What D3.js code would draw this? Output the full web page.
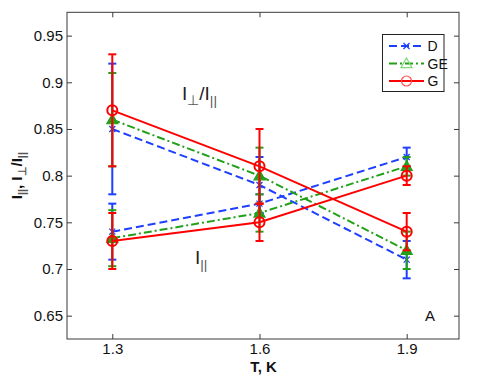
<!DOCTYPE html>
<html><head><meta charset="utf-8">
<script src="https://cdn.jsdelivr.net/npm/d3@7"></script>
<style>body{margin:0;background:#fff}svg{display:block}</style>
</head><body>
<script>
const temps = [1.3, 1.6, 1.9];
const xTicks = [1.3, 1.6, 1.9];
const yTicks = [0.65, 0.7, 0.75, 0.8, 0.85, 0.9, 0.95];
// I_perp / I_par (upper group)
const ratioD  = [0.85, 0.79, 0.71];
const ratioDerr = [0.07, 0.03, 0.02];
const ratioGE = [0.86, 0.80, 0.72];
const ratioGEerr = [0.05, 0.03, 0.02];
const ratioG  = [0.87, 0.81, 0.74];
const ratioGerr = [0.06, 0.04, 0.02];
// I_par (lower group)
const parD  = [0.74, 0.77, 0.82];
const parDerr = [0.03, 0.01, 0.01];
const parGE = [0.733, 0.76, 0.81];
const parGEerr = [0.03, 0.02, 0.01];
const parG  = [0.73, 0.75, 0.80];
const parGerr = [0.03, 0.02, 0.01];
const seriesNames = ["D", "GE", "G"];

const W = 485, H = 386;
const L = 67, R = 459, T = 12.3, B = 339;
const svg = d3.select("body").append("svg").attr("width", W).attr("height", H);
const x = d3.scaleLinear().domain([1.2077, 2.0066]).range([L, R]);
const y = d3.scaleLinear().domain([0.625, 0.975]).range([B, T]);
const axisCol = "#3a3a3a";
const font = "Liberation Sans, Arial, sans-serif";

const styles = {
  D:  {color: "#1f3fff", dash: "8,4", marker: "x"},
  GE: {color: "#23a01a", dash: "8,3,2,3", marker: "tri"},
  G:  {color: "#ff0000", dash: null, marker: "circ"}
};

// axes
const gx = svg.append("g").attr("transform", `translate(0,${B})`)
  .call(d3.axisBottom(x).tickValues(xTicks).tickFormat(d3.format(".1f")).tickSizeInner(-5).tickSizeOuter(0).tickPadding(4));
const gxt = svg.append("g").attr("transform", `translate(0,${T})`)
  .call(d3.axisTop(x).tickValues(xTicks).tickFormat("").tickSizeInner(-5).tickSizeOuter(0));
const gy = svg.append("g").attr("transform", `translate(${L},0)`)
  .call(d3.axisLeft(y).tickValues(yTicks).tickFormat(d => String(+d.toFixed(2))).tickSizeInner(-5).tickSizeOuter(0).tickPadding(4));
const gyr = svg.append("g").attr("transform", `translate(${R},0)`)
  .call(d3.axisRight(y).tickValues(yTicks).tickFormat("").tickSizeInner(-5).tickSizeOuter(0));
[gx, gxt, gy, gyr].forEach(g => {
  g.select(".domain").remove();
  g.selectAll(".tick line").attr("stroke", axisCol);
  g.selectAll(".tick text").attr("fill", "#111").style("font-family", font).style("font-size", "15px");
});
svg.append("rect").attr("x", L).attr("y", T).attr("width", R - L).attr("height", B - T)
  .attr("fill", "none").attr("stroke", axisCol).attr("stroke-width", 1);

const line = d3.line().x(d => x(d[0])).y(d => y(d[1]));

function drawMarker(g, type, cx, cy, color, legend) {
  if (type === "x") {
    const s = 3;
    g.append("path").attr("d", `M${cx-s},${cy-s}L${cx+s},${cy+s}M${cx-s},${cy+s}L${cx+s},${cy-s}`)
      .attr("stroke", color).attr("stroke-width", 1.3).attr("fill", "none");
  } else if (type === "tri") {
    const s = 5.5;
    g.append("path").attr("d", `M${cx},${cy-s}L${cx+s},${cy+s*0.75}L${cx-s},${cy+s*0.75}Z`)
      .attr("stroke", legend ? "#7dd87a" : color).attr("stroke-width", 1.2).attr("fill", legend ? "none" : color);
  } else {
    g.append("circle").attr("cx", cx).attr("cy", cy).attr("r", 5)
      .attr("stroke", legend ? "#ff5050" : color).attr("stroke-width", legend ? 1.2 : 2).attr("fill", "none");
  }
}

function drawSeries(name, vals, errs) {
  const st = styles[name];
  const g = svg.append("g");
  const pts = temps.map((t, i) => [t, vals[i]]);
  temps.forEach((t, i) => {
    const cx = x(t), y1 = y(vals[i] + errs[i]), y2 = y(vals[i] - errs[i]);
    g.append("line").attr("x1", cx).attr("x2", cx).attr("y1", y1).attr("y2", y2)
      .attr("stroke", st.color).attr("stroke-width", 2);
    [y1, y2].forEach(yy => g.append("line").attr("x1", cx - 4).attr("x2", cx + 4).attr("y1", yy).attr("y2", yy)
      .attr("stroke", st.color).attr("stroke-width", 2));
  });
  g.append("path").attr("d", line(pts)).attr("fill", "none").attr("stroke", st.color)
    .attr("stroke-width", 2).attr("stroke-dasharray", st.dash);
  pts.forEach(p => drawMarker(g, st.marker, x(p[0]), y(p[1]), st.color, false));
}

drawSeries("D", ratioD, ratioDerr);
drawSeries("D", parD, parDerr);
drawSeries("GE", ratioGE, ratioGEerr);
drawSeries("GE", parGE, parGEerr);
drawSeries("G", ratioG, ratioGerr);
drawSeries("G", parG, parGerr);

// legend
const lg = svg.append("g");
lg.append("rect").attr("x", 382.5).attr("y", 34.5).attr("width", 61.5).attr("height", 57)
  .attr("fill", "#fff").attr("stroke", "#222").attr("stroke-width", 1);
seriesNames.forEach((n, i) => {
  const st = styles[n];
  const yy = 46 + i * 17.5;
  lg.append("line").attr("x1", 389).attr("x2", 424).attr("y1", yy).attr("y2", yy)
    .attr("stroke", st.color).attr("stroke-width", 2).attr("stroke-dasharray", st.dash);
  drawMarker(lg, st.marker, 406.5, yy, st.color, true);
  lg.append("text").attr("x", 427.5).attr("y", yy + 5).text(n)
    .style("font-family", font).style("font-size", "14px").attr("fill", "#111");
});

// annotations
function subText(sel, parts, size) {
  parts.forEach(p => {
    const ts = sel.append("tspan").text(p.t);
    if (p.sub) ts.attr("baseline-shift", "-35%").style("font-size", (size * 0.72) + "px").attr("fill", "#555");
  });
}
const a1 = svg.append("text").attr("x", 182).attr("y", 100).style("font-family", font).style("font-size", "19px").attr("fill", "#222");
subText(a1, [{t: "I"}, {t: "⊥", sub: true}, {t: "/I"}, {t: "||", sub: true}], 19);
const a2 = svg.append("text").attr("x", 195).attr("y", 264).style("font-family", font).style("font-size", "19px").attr("fill", "#222");
subText(a2, [{t: "I"}, {t: "||", sub: true}], 19);
svg.append("text").attr("x", 425).attr("y", 321).text("A").style("font-family", font).style("font-size", "15px").attr("fill", "#111");

// axis labels
svg.append("text").attr("x", x(1.6) + 4).attr("y", 372).attr("text-anchor", "middle").text("T, K")
  .style("font-family", font).style("font-size", "15px").style("font-weight", "bold").attr("fill", "#111");
const yl = svg.append("text").attr("transform", `translate(22,${(T + B) / 2}) rotate(-90)`).attr("text-anchor", "middle")
  .style("font-family", font).style("font-size", "15px").style("font-weight", "bold").attr("fill", "#111");
subText(yl, [{t: "I"}, {t: "||", sub: true}, {t: ", I"}, {t: "⊥", sub: true}, {t: "/I"}, {t: "||", sub: true}], 15);
</script>
</body></html>
